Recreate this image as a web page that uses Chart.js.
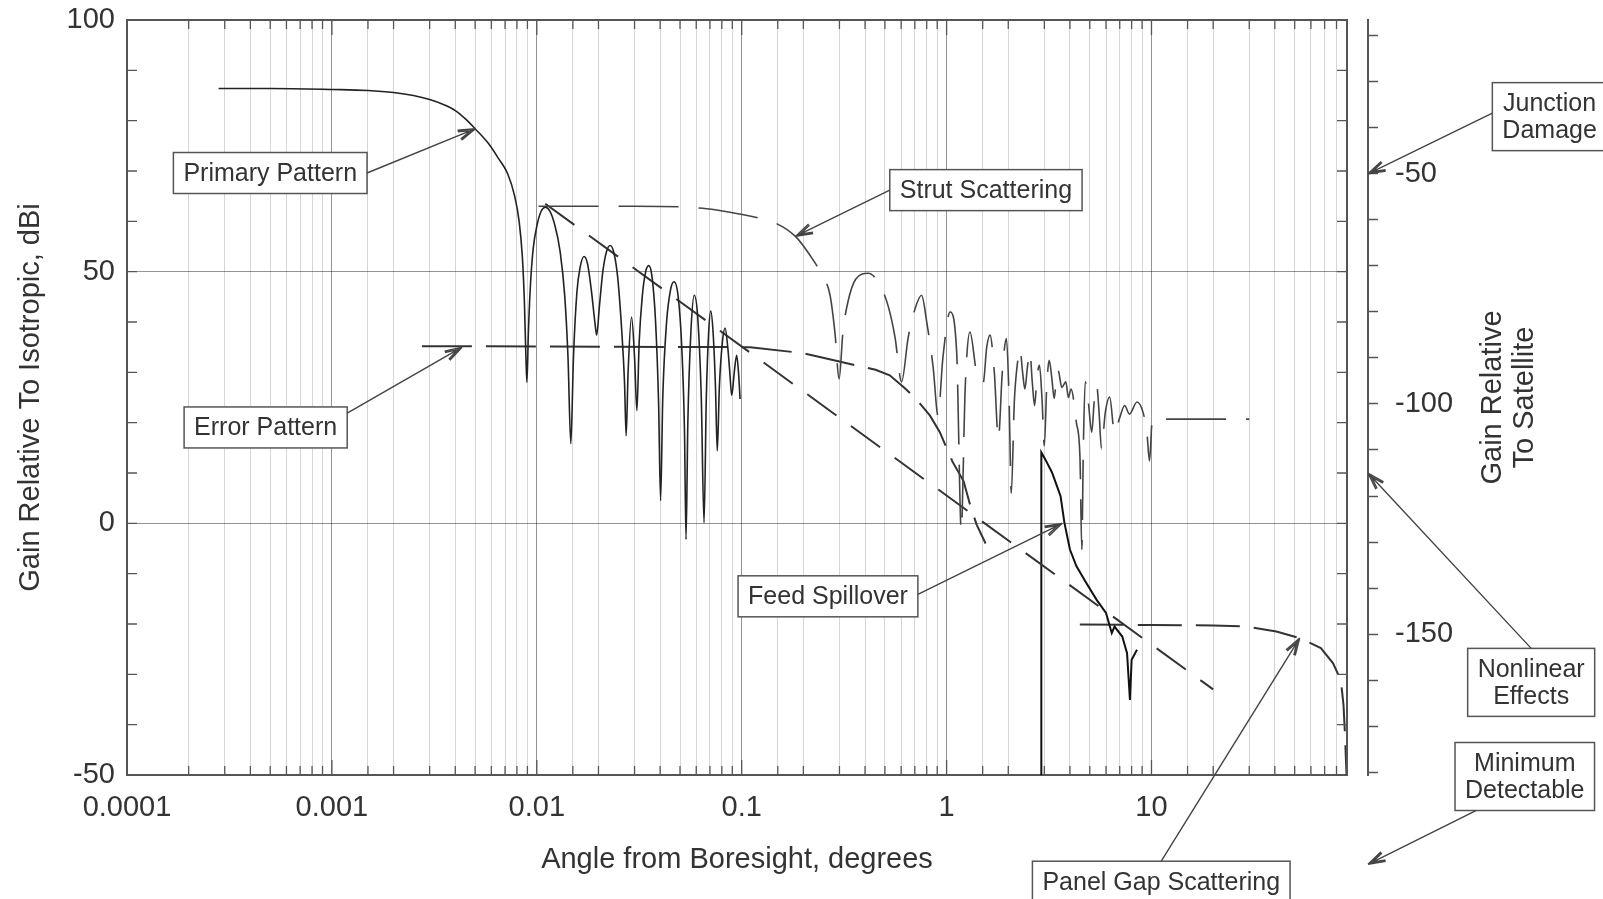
<!DOCTYPE html>
<html>
<head>
<meta charset="utf-8">
<script src="https://cdn.jsdelivr.net/npm/chart.js@4.4.1/dist/chart.umd.min.js"></script>
<style>
  html, body { margin: 0; padding: 0; background: #fff; }
  canvas { display: block; }
</style>
</head>
<body>
<canvas id="chart" width="1603" height="899"></canvas>
<script>
// angle (degrees) / gain (dBi) pairs
const primaryPattern = [
  [0.00028, 86.4], [0.0005, 86.4], [0.001, 86.2], [0.0015, 86.0], [0.002, 85.6], [0.0025, 85.0],
  [0.003, 84.2], [0.0035, 83.2], [0.004, 82.0], [0.0045, 80.3], [0.005, 78.4], [0.0058, 75.5],
  [0.0065, 72.5], [0.0072, 69.5], [0.0078, 65], [0.0082, 60], [0.0085, 53], [0.0087, 44],
  [0.00885, 33], [0.00895, 28], [0.0091, 38], [0.0093, 47], [0.0096, 54.5], [0.0100, 59],
  [0.0105, 62], [0.0110, 62.8], [0.0116, 62], [0.0122, 59.5], [0.0130, 54], [0.0137, 45],
  [0.0142, 33], [0.01466, 15.8], [0.0151, 33], [0.0157, 46], [0.0163, 51], [0.0170, 53],
  [0.0177, 51.5], [0.0185, 46], [0.0192, 40], [0.0196, 37.4], [0.0202, 43], [0.0210, 50],
  [0.0219, 54], [0.0228, 55.2], [0.0237, 54], [0.0248, 49], [0.0260, 38], [0.0268, 28],
  [0.0273, 17.4], [0.0279, 30], [0.0290, 41], [0.0300, 33], [0.0308, 22.4], [0.0316, 36],
  [0.0327, 45], [0.0340, 50], [0.0352, 51.2], [0.0365, 49], [0.0380, 40], [0.0393, 24],
  [0.0402, 4.5], [0.0412, 25], [0.0430, 40], [0.0450, 46.5], [0.0468, 48], [0.0490, 45],
  [0.0510, 35], [0.0526, 18], [0.0535, -3.2], [0.0546, 20], [0.0565, 38], [0.0587, 45.3],
  [0.0610, 41], [0.0635, 25], [0.0655, 0.1], [0.0672, 25], [0.0690, 38], [0.0706, 42.2],
  [0.0725, 38], [0.0745, 27], [0.0760, 14.4], [0.0778, 27], [0.0805, 36], [0.0830, 38.8],
  [0.0855, 35], [0.0875, 30], [0.0894, 25.4], [0.0920, 30], [0.0945, 33.4], [0.0965, 30],
  [0.0982, 24.7]
];

const strutScattering = [
  [0.0102, 63], [0.03, 63], [0.0675, 62.5], [0.1228, 60.6], [0.14, 60], [0.183, 57],
  [0.215, 53.3], [0.245, 49.5], [0.27, 45.3], [0.285, 38], [0.299, 28.7], [0.312, 38],
  [0.33, 44], [0.36, 48.5], [0.415, 49.7], [0.47, 47.5], [0.52, 43], [0.56, 37],
  [0.603, 28.1], [0.65, 37], [0.70, 42.5], [0.755, 45.3], [0.80, 40], [0.86, 31],
  [0.908, 21.4], [0.96, 33], [1.04, 42], [1.12, 34], [1.18, -1.5], [1.23, 26], [1.30, 38],
  [1.40, 30], [1.51, 28], [1.57, 35], [1.63, 37.4], [1.71, 30], [1.79, 16.8], [1.87, 30],
  [1.96, 36.7], [2.02, 24], [2.07, 6], [2.14, 24], [2.22, 32], [2.28, 34.7], [2.35, 30],
  [2.41, 26.7], [2.48, 31], [2.55, 34.1], [2.62, 28], [2.69, 23.4], [2.76, 29], [2.84, 31.4],
  [2.92, 25], [3.0, 15.4], [3.08, 27], [3.17, 32.4], [3.26, 29], [3.35, 24.8], [3.42, 28],
  [3.5, 30.4], [3.65, 27], [3.82, 28.1], [3.93, 25], [4.05, 26.7], [4.3, 20], [4.48, 12.8],
  [4.57, -5.2], [4.65, 15], [4.75, 28.1], [4.92, 24], [5.11, 18.1], [5.25, 24], [5.4, 27.4],
  [5.55, 22], [5.7, 14.8], [5.95, 22], [6.25, 25.1], [6.6, 18], [7.0, 21], [7.4, 23.4],
  [7.8, 21.7], [8.5, 24.1], [9.1, 22], [9.5, 18], [9.78, 12.4], [10.1, 20.7], [30, 20.7]
];

const errorPattern = [
  [0.00275, 35.2], [0.11, 35], [0.2, 33.8], [0.296, 32.2], [0.35, 31.5], [0.45, 30.5],
  [0.528, 29.4], [0.62, 27], [0.71, 24.7], [0.83, 21.4], [0.927, 18.1], [1.07, 12.2],
  [1.21, 8.4], [1.30, 3.8], [1.40, -0.2], [1.55, -4]
];

const sidelobeEnvelope = [[0.011, 63.5], [20, -33]];

const feedSpillover = [
  [2.9, -50], [2.9, 14.1], [3.05, 12.5], [3.27, 10.1], [3.45, 7.5], [3.6, 5.4], [3.76, 0.1],
  [4.0, -5.2], [4.3, -8.5], [4.8, -11.8], [5.4, -15.2], [6.0, -17.8], [6.4, -21.8],
  [6.6, -20.5], [7.2, -22.5], [7.6, -25.8], [7.85, -35.1], [8.0, -27.1], [8.5, -25.1]
];

const panelGapScattering = [
  [4.47, -20.1], [10, -20.2], [20, -20.3], [29.3, -20.5], [40.7, -21.5], [52.9, -22.8],
  [67.1, -24.8], [77, -27.8], [84, -31.2], [86.5, -36], [88, -42], [89.5, -50]
];

const xTickLabels = ['0.0001', '0.001', '0.01', '0.1', '1', '10'];
const leftTickValues = [-50, 0, 50, 100];
const rightTickLabels = [-50, -100, -150];

// callouts: box centre in data units, arrow tip (left axis or right axis value)
const notes = [
  { text: ['Primary Pattern'], at: [0.0005, 69.6], tip: [0.00502, 78.4], from: [1, 0.5] },
  { text: ['Strut Scattering'], at: [1.556, 66.2], tip: [0.183, 57], from: [0, 0.5] },
  { text: ['Error Pattern'], at: [0.000475, 19.05], tip: [0.00432, 35], from: [1, 0.15] },
  { text: ['Feed Spillover'], at: [0.2637, -14.5], tip: [3.67, 0], from: [1, 0.45] },
  { text: ['Panel Gap Scattering'], at: [11.16, -71.2], tip: [52.9, -22.8], from: [0.5, 0] },
  { text: ['Junction', 'Damage'], at: [877, 80.8], tipRight: -50, from: [0, 0.45] },
  { text: ['Nonlinear', 'Effects'], at: [713, -31.6], tipRight: -115, from: [0.5, 0] },
  { text: ['Minimum', 'Detectable'], at: [663.5, -50.3], tipRight: -200, from: [0.15, 1] }
];

const FONT = "'Liberation Sans', Arial, Helvetica, sans-serif";
const INK = '#333';
const FRAME = '#555';

Chart.defaults.font.family = FONT;
Chart.defaults.color = INK;

const toXY = (pts) => pts.map(([x, y]) => ({ x, y }));
const isDecade = (v) => Math.abs(Math.log10(v) - Math.round(Math.log10(v))) < 1e-9;

const extras = {
  id: 'extras',
  beforeDraw(chart) {
    const ctx = chart.ctx;
    ctx.save();
    ctx.fillStyle = '#fff';
    ctx.fillRect(0, 0, chart.width, chart.height);
    ctx.restore();
  },
  afterDraw(chart) {
    const { ctx, chartArea: a } = chart;
    const xs = chart.scales.x, ys = chart.scales.y, y1 = chart.scales.y1;
    ctx.save();

    // top and right edges of the frame
    ctx.strokeStyle = FRAME;
    ctx.lineWidth = 2;
    ctx.beginPath();
    ctx.moveTo(a.left, a.top);
    ctx.lineTo(a.right, a.top);
    ctx.lineTo(a.right, a.bottom);
    ctx.stroke();

    // inward minor ticks
    ctx.lineWidth = 1.3;
    ctx.beginPath();
    for (let v = -40; v < 100; v += 10) {
      const py = ys.getPixelForValue(v);
      ctx.moveTo(a.left, py); ctx.lineTo(a.left + 10, py);
      ctx.moveTo(a.right, py); ctx.lineTo(a.right - 10, py);
    }
    xs.ticks.forEach((t) => {
      const px = xs.getPixelForValue(t.value);
      if (px <= a.left + 1 || px >= a.right - 1) return;
      const len = isDecade(t.value) ? 15 : 9;
      ctx.moveTo(px, a.bottom); ctx.lineTo(px, a.bottom - len);
      ctx.moveTo(px, a.top); ctx.lineTo(px, a.top + len);
    });
    ctx.stroke();

    // right axis title, reading upward
    ctx.fillStyle = INK;
    ctx.font = '29px ' + FONT;
    ctx.textAlign = 'center';
    ctx.textBaseline = 'middle';
    ctx.translate(y1.left + 140, (a.top + a.bottom) / 2);
    ctx.rotate(-Math.PI / 2);
    ctx.fillText('Gain Relative', 0, -15);
    ctx.fillText('To Satellite', 0, 17);
    ctx.setTransform(1, 0, 0, 1, 0, 0);

    // callouts
    ctx.font = '25px ' + FONT;
    notes.forEach((n) => {
      const lineH = 27;
      const w = Math.max(...n.text.map((s) => ctx.measureText(s).width)) + 20;
      const h = n.text.length * lineH + 14;
      const cx = xs.getPixelForValue(n.at[0]);
      const cy = ys.getPixelForValue(n.at[1]);
      const bx = cx - w / 2, by = cy - h / 2;

      ctx.fillStyle = '#fff';
      ctx.fillRect(bx, by, w, h);
      ctx.strokeStyle = FRAME;
      ctx.lineWidth = 1.5;
      ctx.strokeRect(bx, by, w, h);
      ctx.fillStyle = INK;
      n.text.forEach((s, i) => {
        ctx.fillText(s, cx, by + 7 + lineH * (i + 0.5) + 1);
      });

      let tx, ty;
      if (n.tipRight !== undefined) {
        tx = y1.left;
        ty = y1.getPixelForValue(n.tipRight);
      } else {
        tx = xs.getPixelForValue(n.tip[0]);
        ty = ys.getPixelForValue(n.tip[1]);
      }
      const sx = bx + n.from[0] * w, sy = by + n.from[1] * h;
      ctx.strokeStyle = '#444';
      ctx.lineWidth = 1.4;
      ctx.beginPath();
      ctx.moveTo(sx, sy);
      ctx.lineTo(tx, ty);
      const ang = Math.atan2(ty - sy, tx - sx);
      [0.3, -0.3].forEach((d) => {
        ctx.moveTo(tx, ty);
        ctx.lineTo(tx - 18 * Math.cos(ang + d), ty - 18 * Math.sin(ang + d));
      });
      [0.22, -0.22].forEach((d) => {
        ctx.moveTo(tx - 5 * Math.cos(ang), ty - 5 * Math.sin(ang));
        ctx.lineTo(tx - 18 * Math.cos(ang + d), ty - 18 * Math.sin(ang + d));
      });
      ctx.stroke();
    });
    ctx.restore();
  }
};

const lineSet = (label, pts, opts) => Object.assign({
  label,
  data: toXY(pts),
  borderColor: '#333',
  borderWidth: 2,
  pointRadius: 0,
  fill: false,
  tension: 0
}, opts);

// keep the tall tick labels from pushing the plot area down
const noEdgePadding = (s) => { s.paddingTop = 0; s.paddingBottom = 0; };

new Chart(document.getElementById('chart').getContext('2d'), {
  type: 'line',
  data: {
    datasets: [
      lineSet('Primary Pattern', primaryPattern, { borderColor: '#222', borderWidth: 1.6, cubicInterpolationMode: 'monotone' }),
      lineSet('Strut Scattering', strutScattering, { borderColor: '#444', borderWidth: 1.6, borderDash: [60, 20], cubicInterpolationMode: 'monotone' }),
      lineSet('Error Pattern', errorPattern, { borderDash: [50, 14] }),
      lineSet('Sidelobe Envelope', sidelobeEnvelope, { borderDash: [36, 18] }),
      lineSet('Feed Spillover', feedSpillover, { borderColor: '#111' }),
      lineSet('Panel Gap Scattering', panelGapScattering, { borderDash: [44, 14] })
    ]
  },
  options: {
    responsive: false,
    animation: false,
    devicePixelRatio: 1,
    layout: { padding: { top: 20 } },
    plugins: { legend: { display: false }, tooltip: { enabled: false } },
    scales: {
      x: {
        type: 'logarithmic',
        min: 0.0001,
        max: 90,
        afterFit: (s) => { s.height = 124; },
        border: { display: true, color: FRAME, width: 2 },
        grid: {
          drawTicks: false,
          color: (c) => (c.tick && isDecade(c.tick.value)) ? 'rgba(0,0,0,0.42)' : 'rgba(0,0,0,0.16)',
          lineWidth: 1
        },
        ticks: {
          autoSkip: false,
          maxRotation: 0,
          minRotation: 0,
          padding: 16,
          font: { size: 29 },
          color: INK,
          callback: (v) => {
            const r = Math.round(Math.log10(v));
            return isDecade(v) ? (xTickLabels[r + 4] || '') : '';
          }
        },
        title: {
          display: true,
          text: 'Angle from Boresight, degrees',
          font: { size: 29 },
          color: INK,
          padding: { top: 0, bottom: 22 }
        }
      },
      y: {
        type: 'linear',
        position: 'left',
        min: -50,
        max: 100,
        afterFit: (s) => { s.width = 127; noEdgePadding(s); },
        afterBuildTicks: (s) => { s.ticks = leftTickValues.map((value) => ({ value })); },
        border: { display: true, color: FRAME, width: 2 },
        grid: {
          drawTicks: false,
          color: (c) => (c.tick && (c.tick.value === 0 || c.tick.value === 50)) ? 'rgba(0,0,0,0.42)' : 'rgba(0,0,0,0)'
        },
        ticks: { padding: 12, font: { size: 29 }, color: INK },
        title: {
          display: true,
          text: 'Gain Relative To Isotropic, dBi',
          font: { size: 29 },
          color: INK,
          padding: { top: 13.6, bottom: 0 }
        }
      },
      ySpace: {
        type: 'linear',
        position: 'right',
        weight: 1,
        min: 0,
        max: 1,
        afterFit: (s) => { s.width = 21; noEdgePadding(s); },
        border: { display: false },
        grid: { display: false },
        ticks: { display: false }
      },
      y1: {
        type: 'linear',
        position: 'right',
        weight: 2,
        min: -180.6,
        max: -16.6,
        afterFit: (s) => { s.width = 235; noEdgePadding(s); },
        afterBuildTicks: (s) => {
          const t = [];
          for (let v = -180; v <= -20; v += 10) t.push({ value: v });
          s.ticks = t;
        },
        border: { display: true, color: FRAME, width: 2 },
        grid: {
          display: true,
          drawOnChartArea: false,
          drawTicks: true,
          tickLength: 10,
          tickColor: FRAME,
          tickWidth: 1.5
        },
        ticks: {
          padding: 17,
          font: { size: 29 },
          color: INK,
          callback: (v) => rightTickLabels.includes(v) ? String(v) : ''
        }
      }
    }
  },
  plugins: [extras]
});
</script>
</body>
</html>
